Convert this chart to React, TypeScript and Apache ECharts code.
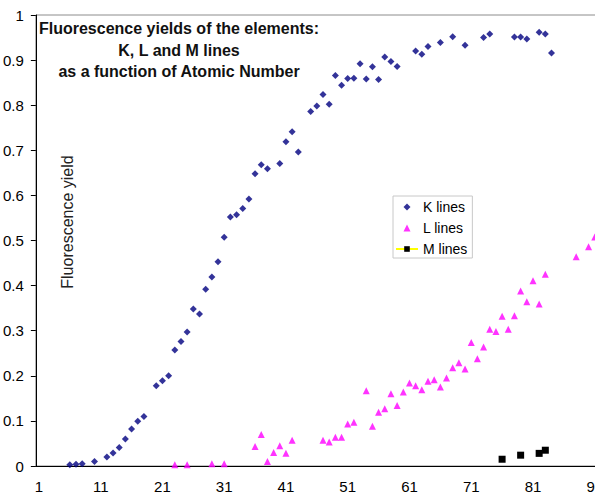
import React, { useEffect, useRef } from 'react';
import * as echarts from 'echarts';

const FONT = '"Liberation Sans", Arial, sans-serif';

// Atomic numbers shown on the category axis
const atomicNumbers: string[] = Array.from({ length: 92 }, (_, i) => String(i + 1));

// K lines
const kZ = [6, 7, 8, 10, 12, 13, 14, 15, 16, 17, 18, 20, 21, 22, 23, 24, 25, 26, 27, 28, 29, 30, 31, 32, 33, 34, 35, 36, 37, 38, 40, 41, 42, 43, 45, 46, 47, 48, 49, 50, 51, 52, 53, 54, 55, 56, 57, 58, 59, 62, 63, 64, 66, 68, 70, 73, 74, 78, 79, 80, 82, 83, 84];
const kYield = [0.003, 0.004, 0.005, 0.01, 0.02, 0.029, 0.041, 0.06, 0.082, 0.099, 0.11, 0.178, 0.189, 0.2, 0.257, 0.276, 0.297, 0.348, 0.337, 0.392, 0.419, 0.453, 0.507, 0.552, 0.557, 0.571, 0.592, 0.648, 0.668, 0.659, 0.671, 0.719, 0.741, 0.696, 0.786, 0.798, 0.824, 0.802, 0.866, 0.844, 0.859, 0.86, 0.892, 0.858, 0.885, 0.857, 0.907, 0.897, 0.886, 0.92, 0.913, 0.93, 0.939, 0.952, 0.933, 0.95, 0.958, 0.951, 0.951, 0.947, 0.962, 0.958, 0.916];

// L lines
const lZ = [23, 25, 29, 31, 36, 37, 38, 39, 40, 41, 42, 47, 48, 49, 50, 51, 52, 54, 55, 56, 57, 58, 59, 60, 61, 62, 63, 64, 65, 66, 67, 68, 69, 70, 71, 72, 73, 74, 75, 76, 77, 78, 79, 80, 81, 82, 83, 88, 90, 91];
const lYield = [0.003, 0.003, 0.005, 0.005, 0.043, 0.07, 0.01, 0.03, 0.045, 0.028, 0.057, 0.057, 0.053, 0.064, 0.064, 0.093, 0.097, 0.167, 0.088, 0.119, 0.127, 0.16, 0.134, 0.164, 0.184, 0.178, 0.169, 0.188, 0.191, 0.175, 0.195, 0.218, 0.229, 0.215, 0.274, 0.238, 0.264, 0.303, 0.298, 0.332, 0.303, 0.333, 0.388, 0.364, 0.411, 0.359, 0.425, 0.464, 0.486, 0.508];

// M lines
const mZ = [76, 79, 82, 83];
const mYield = [0.015, 0.024, 0.028, 0.035];

const titleLines = ['Fluorescence yields of the elements:', 'K, L and M lines', 'as a function of Atomic Number'];
const yAxisTitle = 'Fluorescence yield';
const seriesNames = ['K lines', 'L lines', 'M lines'];

const toPairs = (zs: number[], ys: number[]) => zs.map((z, i) => [z - 1, ys[i]]);
const mSeriesData = atomicNumbers.map((c) => {
  const idx = mZ.indexOf(Number(c));
  return idx >= 0 ? mYield[idx] : null;
});

export default function App() {
  const ref = useRef<HTMLDivElement>(null);
  useEffect(() => {
    if (!ref.current) return;
    const chart = echarts.init(ref.current, null, { renderer: 'svg' });
    chart.setOption({
      animation: false,
      backgroundColor: '#ffffff',
      textStyle: { fontFamily: FONT },
      grid: {
        left: 33.6,
        top: 15,
        width: 570.4,
        height: 453,
        show: true,
        borderColor: '#8c8c8c',
        borderWidth: 1,
        backgroundColor: 'transparent',
      },
      xAxis: {
        type: 'category',
        data: atomicNumbers,
        boundaryGap: true,
        axisLine: { lineStyle: { color: '#000', width: 1 } },
        axisTick: { interval: 0, length: 4, lineStyle: { color: '#000' } },
        axisLabel: { interval: 9, fontSize: 15, color: '#000', margin: 13, fontFamily: FONT },
        splitLine: { show: false },
      },
      yAxis: {
        type: 'value',
        min: 0,
        max: 1,
        interval: 0.1,
        axisLine: { show: true, lineStyle: { color: '#000', width: 1 } },
        axisTick: { show: true, length: 5, lineStyle: { color: '#000' } },
        axisLabel: { fontSize: 15, color: '#000', margin: 12, fontFamily: FONT },
        splitLine: { show: false },
      },
      legend: {
        orient: 'vertical',
        left: 393,
        top: 196,
        padding: [3, 5, 1, 2],
        itemWidth: 22,
        itemHeight: 7,
        itemGap: 5,
        symbolKeepAspect: true,
        borderColor: '#c8c8c8',
        borderWidth: 1,
        backgroundColor: '#ffffff',
        textStyle: { fontSize: 14, color: '#000', lineHeight: 16, fontFamily: FONT },
        data: [
          { name: seriesNames[0], icon: 'path://M5,0L10,5L5,10L0,5Z' },
          { name: seriesNames[1], icon: 'path://M5,0L10,10L0,10Z' },
          { name: seriesNames[2] },
        ],
      },
      graphic: [
        {
          type: 'text',
          x: 179,
          y: 18,
          style: {
            text: titleLines.join('\n'),
            font: `bold 16px ${FONT}`,
            fill: '#111',
            align: 'center',
            verticalAlign: 'top',
            lineHeight: 21.5,
          },
        },
        {
          type: 'text',
          x: 67,
          y: 222,
          rotation: Math.PI / 2,
          style: {
            text: yAxisTitle,
            font: `16px ${FONT}`,
            fill: '#222',
            align: 'center',
            verticalAlign: 'middle',
          },
        },
      ],
      series: [
        {
          name: seriesNames[0],
          type: 'scatter',
          symbol: 'diamond',
          symbolSize: 7,
          itemStyle: { color: '#000080' },
          data: toPairs(kZ, kYield),
        },
        {
          name: seriesNames[1],
          type: 'scatter',
          symbol: 'triangle',
          symbolSize: 7,
          itemStyle: { color: '#ff00ff' },
          data: toPairs(lZ, lYield),
        },
        {
          name: seriesNames[2],
          type: 'line',
          symbol: 'rect',
          symbolSize: 7,
          showSymbol: true,
          showAllSymbol: true,
          connectNulls: false,
          itemStyle: { color: '#000000' },
          lineStyle: { color: '#ffff00', width: 1.5 },
          data: mSeriesData,
        },
      ],
    });
    return () => chart.dispose();
  }, []);
  return (
    <div style={{ position: 'fixed', left: 0, top: 0, width: 595, height: 494, overflow: 'hidden', background: '#fff' }}>
      <div ref={ref} style={{ width: 640, height: 494 }} />
    </div>
  );
}
